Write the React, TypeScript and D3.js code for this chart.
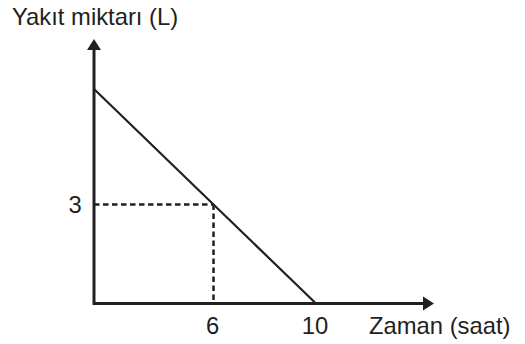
import * as d3 from 'd3';
import React from 'react';

// Chart data (schematic graph, axis not to scale)
const timeTicks = [6, 10];
const fuelTicks = [3];
const lineTime = [0, 6, 10];
const lineFuel = [7.5, 3, 0];
const guideTime = 6;
const guideFuel = 3;

const xTitle = 'Zaman (saat)';
const yTitle = 'Yakıt miktarı (L)';

const width = 525;
const height = 344;
const ink = '#231f20';
const font = '"Liberation Sans", Arial, Helvetica, sans-serif';
const fontSize = 23.8;

export default function App() {
  // piecewise scales, the drawing is schematic
  const x = d3.scaleLinear().domain([0, 6, 10]).range([94, 213.5, 316]);
  const y = d3.scaleLinear().domain([0, 3, 7.5]).range([303.5, 204.5, 89]);

  const x0 = x(0);
  const y0 = y(0);
  const xEnd = 434;
  const yEnd = 39;
  const arrowLen = 11;
  const arrowHalf = 7;

  const line = d3.line<number>()
    .x((d, i) => x(lineTime[i]))
    .y((d) => y(d));

  return (
    <svg width={width} height={height} style={{ position: 'absolute', left: 0, top: 0 }}>
      <rect width={width} height={height} fill="#ffffff" />

      {/* dashed guides */}
      <line x1={x0} x2={x(guideTime)} y1={y(guideFuel)} y2={y(guideFuel)}
        stroke={ink} strokeWidth={2.5} strokeDasharray="5.5,3.5" />
      <line x1={x(guideTime)} x2={x(guideTime)} y1={y(guideFuel)} y2={y0}
        stroke={ink} strokeWidth={2.5} strokeDasharray="5.5,3.5" />

      {/* fuel line */}
      <path d={line(lineFuel) || ''} fill="none" stroke={ink} strokeWidth={2.2} />

      {/* axes */}
      <line x1={x0} x2={xEnd - arrowLen + 1} y1={y0} y2={y0} stroke={ink} strokeWidth={3} />
      <line x1={x0} x2={x0} y1={y0 + 1.5} y2={yEnd + arrowLen - 1} stroke={ink} strokeWidth={3} />
      <path d={`M${xEnd},${y0} L${xEnd - arrowLen},${y0 - arrowHalf} L${xEnd - arrowLen},${y0 + arrowHalf} Z`} fill={ink} />
      <path d={`M${x0},${yEnd} L${x0 - arrowHalf},${yEnd + arrowLen} L${x0 + arrowHalf},${yEnd + arrowLen} Z`} fill={ink} />

      {/* tick labels */}
      {timeTicks.map((t) => (
        <text key={'t' + t} x={x(t) - 1} y={334} textAnchor="middle"
          fontFamily={font} fontSize={fontSize} fill={ink}>{t}</text>
      ))}
      {fuelTicks.map((v) => (
        <text key={'v' + v} x={75} y={y(v) + 8.5} textAnchor="middle"
          fontFamily={font} fontSize={fontSize} fill={ink}>{v}</text>
      ))}

      {/* axis titles */}
      <text x={369} y={334} fontFamily={font} fontSize={fontSize} fill={ink}>{xTitle}</text>
      <text x={12} y={25} fontFamily={font} fontSize={fontSize} fill={ink}>{yTitle}</text>
    </svg>
  );
}
